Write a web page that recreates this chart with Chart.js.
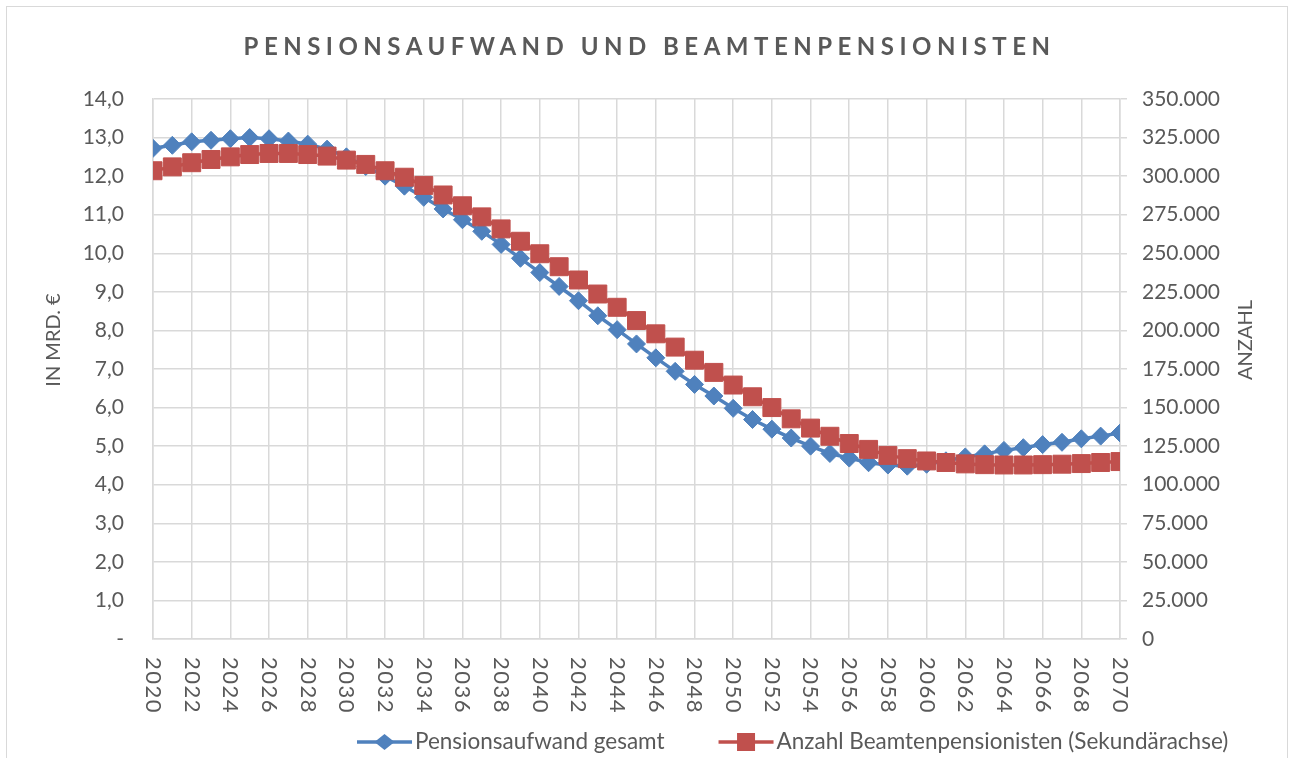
<!DOCTYPE html>
<html lang="de">
  <head>
    <meta charset="UTF-8" />
    <script src="https://cdn.jsdelivr.net/npm/chart.js"></script>
    <title>Pensionsaufwand</title>
    <style>
      body { margin: 0; overflow: hidden; background: #fff; }
      .wrap { position: relative; width: 1293px; height: 758px; }
      .frame {
        position: absolute; left: 6px; top: 6px;
        width: 1280px; height: 800px;
        border: 1.5px solid #d9d9d9;
      }
      canvas { position: absolute; left: 0; top: 0; }
    </style>
  </head>
  <body>
    <div class="wrap">
      <div class="frame"></div>
      <canvas id="chart"></canvas>
    </div>
    <script>
      // data
      const years = [];
      for (let y = 2020; y <= 2070; y++) years.push(y);

      const aufwand = [
        12.72, 12.80, 12.89, 12.93, 12.97, 13.00, 12.97, 12.91, 12.83, 12.70,
        12.50, 12.25, 12.00, 11.74, 11.45, 11.15, 10.87, 10.57, 10.23, 9.87,
        9.50, 9.14, 8.77, 8.38, 8.02, 7.65, 7.29, 6.94, 6.60, 6.30,
        5.98, 5.69, 5.44, 5.21, 5.00, 4.81, 4.69, 4.57, 4.51, 4.48,
        4.53, 4.62, 4.72, 4.80, 4.89, 4.96, 5.04, 5.10, 5.19, 5.26,
        5.34
      ];
      const pensionisten = [
        303500, 306000, 308700, 310800, 312500, 314000, 314700, 314700, 314000, 313000,
        310400, 307600, 303500, 299300, 294000, 287800, 280800, 273600, 265800, 257800,
        249700, 241300, 232700, 223600, 215000, 206400, 197800, 189200, 180700, 172800,
        164600, 157000, 150000, 142700, 136700, 131400, 126700, 122900, 119000, 116900,
        115400, 114400, 113500, 113000, 112800, 112800, 113000, 113300, 113700, 114400,
        115000
      ];
      const seriesNames = ['Pensionsaufwand gesamt', 'Anzahl Beamtenpensionisten (Sekundärachse)'];
      const chartTitle = 'PENSIONSAUFWAND UND BEAMTENPENSIONISTEN';
      const leftTitle = 'IN MRD. €';
      const rightTitle = 'ANZAHL';

      const FONT = 'Lato, "Open Sans", sans-serif';
      const TXT = '#595959';
      const GRID = '#d9d9d9';
      const BLUE = '#4f81bd';
      const RED = '#c0504d';

      function fmtLeft(v) {
        return v === 0 ? '-' : v.toFixed(1).replace('.', ',');
      }
      function fmtRight(v) {
        return String(v).replace(/\B(?=(\d{3})+(?!\d))/g, '.');
      }

      // draws title, axis titles, rotated year labels and the legend
      const decor = {
        id: 'decor',
        afterDraw(chart) {
          const ctx = chart.ctx;
          const area = chart.chartArea;

          ctx.save();
          ctx.fillStyle = TXT;
          ctx.font = 'bold 24px ' + FONT;
          ctx.letterSpacing = '5.5px';
          ctx.textAlign = 'center';
          ctx.textBaseline = 'middle';
          ctx.fillText(chartTitle, chart.width / 2 + 3, 47);
          ctx.restore();

          // axis titles, both read bottom to top
          ctx.save();
          ctx.fillStyle = TXT;
          ctx.font = '20px ' + FONT;
          ctx.textAlign = 'center';
          ctx.textBaseline = 'middle';
          [[54, leftTitle], [1246, rightTitle]].forEach(([x, t]) => {
            ctx.save();
            ctx.translate(x, 340);
            ctx.rotate(-Math.PI / 2);
            ctx.fillText(t, 0, 0);
            ctx.restore();
          });
          ctx.restore();

          // year labels, rotated clockwise
          const xs = chart.scales.x;
          ctx.save();
          ctx.fillStyle = TXT;
          ctx.font = '22px ' + FONT;
          ctx.letterSpacing = '1.5px';
          ctx.textAlign = 'left';
          ctx.textBaseline = 'middle';
          xs.ticks.forEach(t => {
            const px = xs.getPixelForValue(t.value);
            ctx.save();
            ctx.translate(px, area.bottom + 18);
            ctx.rotate(Math.PI / 2);
            ctx.fillText(String(t.value), 0, 0);
            ctx.restore();
          });
          ctx.restore();

          // legend
          ctx.save();
          ctx.font = '22.5px ' + FONT;
          ctx.textBaseline = 'middle';
          let lx = 357;
          const ly = 742;
          chart.data.datasets.forEach((ds, i) => {
            ctx.strokeStyle = ds.borderColor;
            ctx.lineWidth = 3.5;
            ctx.beginPath();
            ctx.moveTo(lx, ly);
            ctx.lineTo(lx + 55, ly);
            ctx.stroke();
            ctx.fillStyle = ds.backgroundColor;
            const cx = lx + 27.5;
            ctx.beginPath();
            if (ds.pointStyle === 'rectRot') {
              ctx.moveTo(cx - 10, ly);
              ctx.lineTo(cx, ly - 8);
              ctx.lineTo(cx + 10, ly);
              ctx.lineTo(cx, ly + 8);
            } else {
              ctx.rect(cx - 9, ly - 9, 18, 18);
            }
            ctx.closePath();
            ctx.fill();
            ctx.fillStyle = TXT;
            ctx.fillText(ds.label, lx + 58, ly);
            lx += 58 + ctx.measureText(ds.label).width + 54;
          });
          ctx.restore();
        }
      };

      const chart = new Chart(document.getElementById('chart'), {
        type: 'line',
        data: {
          labels: years,
          datasets: [
            {
              label: seriesNames[0],
              data: aufwand,
              yAxisID: 'y',
              order: 1,
              borderColor: BLUE,
              backgroundColor: BLUE,
              borderWidth: 3.5,
              pointStyle: 'rectRot',
              pointRadius: 9,
              pointBorderWidth: 1,
              tension: 0,
            },
            {
              label: seriesNames[1],
              data: pensionisten,
              yAxisID: 'y2',
              order: 0,
              borderColor: RED,
              backgroundColor: RED,
              borderWidth: 3.5,
              pointStyle: 'rect',
              pointRadius: 12.7,
              pointBorderWidth: 1,
              tension: 0,
            },
          ],
        },
        options: {
          responsive: true,
          maintainAspectRatio: false,
          animation: false,
          layout: { padding: { top: 99, left: 0, right: 0, bottom: 0 } },
          plugins: {
            legend: { display: false },
            title: { display: false },
            tooltip: { enabled: false },
          },
          scales: {
            x: {
              type: 'linear',
              min: 2020,
              max: 2070,
              afterFit: s => { s.height = 119; },
              ticks: { stepSize: 2, display: false },
              grid: { color: GRID, lineWidth: 1.5, drawTicks: false },
              border: { color: GRID, width: 1.5 },
            },
            y: {
              position: 'left',
              min: 0,
              max: 14,
              afterFit: s => { s.width = 153; },
              ticks: {
                stepSize: 1,
                padding: 29,
                color: TXT,
                font: { family: FONT, size: 21 },
                callback: v => fmtLeft(v),
              },
              grid: { color: GRID, lineWidth: 1.5, drawTicks: false },
              border: { color: GRID, width: 1.5 },
            },
            y2: {
              position: 'right',
              min: 0,
              max: 350000,
              afterFit: s => { s.width = 173; },
              ticks: {
                stepSize: 25000,
                padding: 15,
                color: TXT,
                font: { family: FONT, size: 21 },
                callback: v => fmtRight(v),
              },
              grid: { drawOnChartArea: false, color: GRID, lineWidth: 1.5, tickLength: 7 },
              border: { color: GRID, width: 1.5 },
            },
          },
        },
        plugins: [decor],
      });
    </script>
  </body>
</html>
